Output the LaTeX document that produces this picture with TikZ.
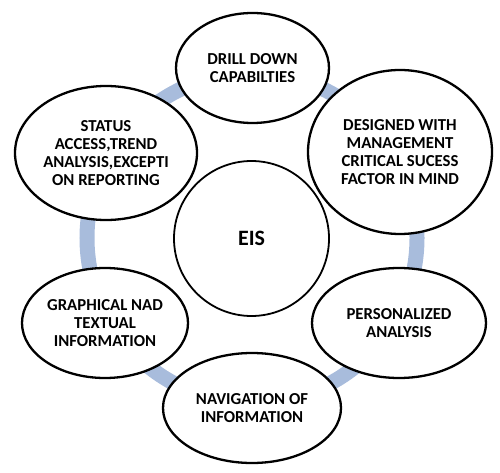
\documentclass[tikz,border=0pt]{standalone}
\usepackage{fontspec}
\setmainfont{Carlito}
\usetikzlibrary{shapes.geometric}

\definecolor{ringblue}{RGB}{168,188,220}

\begin{document}
\begin{tikzpicture}[x=1bp,y=-1bp,
  bubble/.style={draw,ellipse,fill=white,line width=2.3bp,inner sep=0pt,align=center,
    font=\fontsize{16.8}{18.3}\selectfont\bfseries},
  hub/.style={draw,circle,fill=white,line width=1.8bp,inner sep=0pt,minimum size=155bp,
    font=\fontsize{22}{24}\selectfont\bfseries}]
  \useasboundingbox (0,0) rectangle (500,473);

  % light blue ring behind all bubbles
  \draw[ringblue,line width=15bp] (252,238) circle[radius=165bp];

  % EIS in the middle
  \node[hub] (eis) at (251.5,238.5) {EIS};

  % the six bubbles round the ring
  \node[bubble,minimum width=153bp,minimum height=110bp] (drill) at (252.5,68) {DRILL DOWN\\CAPABILTIES};
  \node[bubble,minimum width=184bp,minimum height=164bp] (design) at (400,152) {DESIGNED WITH\\MANAGEMENT\\CRITICAL SUCESS\\FACTOR IN MIND};
  \node[bubble,minimum width=174bp,minimum height=110bp] (person) at (399,323) {PERSONALIZED\\ANALYSIS};
  \node[bubble,minimum width=178bp,minimum height=110bp] (navig) at (252,408) {NAVIGATION OF\\INFORMATION};
  \node[bubble,minimum width=166bp,minimum height=110bp] (graph) at (105,323) {GRAPHICAL NAD\\TEXTUAL\\INFORMATION};
  \node[bubble,minimum width=182bp,minimum height=134bp] (status) at (106,153) {STATUS\\ACCESS,TREND\\ANALYSIS,EXCEPTI\\ON REPORTING};
\end{tikzpicture}
\end{document}
